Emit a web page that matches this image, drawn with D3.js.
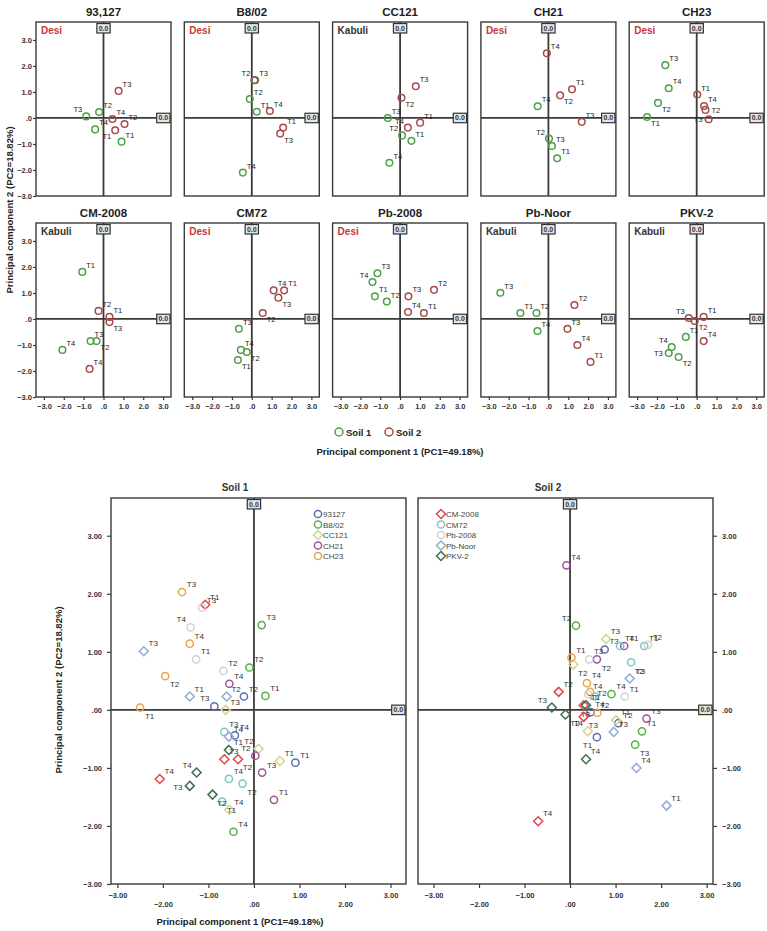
<!DOCTYPE html>
<html><head><meta charset="utf-8">
<script src="https://cdn.jsdelivr.net/npm/d3@7"></script>
<style>body{margin:0;background:#fff}svg{display:block;font-family:"Liberation Sans",Arial,sans-serif}</style>
</head><body><svg id="c" width="767" height="931"></svg>
<script>
// ---------------- DATA ----------------
const varieties = ["93,127","B8/02","CC121","CH21","CH23","CM-2008","CM72","Pb-2008","Pb-Noor","PKV-2"];
const legendNames = ["93127","B8/02","CC121","CH21","CH23","CM-2008","CM72","Pb-2008","Pb-Noor","PKV-2"];
const types = ["Desi","Desi","Kabuli","Desi","Desi","Kabuli","Desi","Desi","Kabuli","Kabuli"];
const treatments = ["T1","T2","T3","T4"];
// PC1 / PC2 scores, rows = varieties, columns = T1..T4
const soil1PC1 = [[0.91,-0.22,-0.87,-0.42],[0.25,-0.10,0.17,-0.45],[0.57,0.10,-0.62,-0.54],[0.44,0.03,0.18,-0.54],[-2.50,-1.95,-1.58,-1.41],
                  [-1.07,-0.35,-0.65,-2.07],[-0.70,-0.25,-0.65,-0.55],[-1.27,-0.67,-1.14,-1.39],[-1.41,-0.60,-2.42,-0.55],[-0.55,-0.91,-1.41,-1.26]];
const soil1PC2 = [[-0.91,0.23,0.06,-0.44],[0.24,0.73,1.46,-2.10],[-0.88,-0.67,0.00,-1.72],[-1.55,-0.79,-1.08,0.45],[0.04,0.58,2.03,1.14],
                  [1.81,-0.85,-0.85,-1.19],[-1.58,-1.27,-0.38,-1.19],[0.87,0.67,1.76,1.42],[0.23,0.23,1.01,-0.46],[-0.69,-1.46,-1.31,-1.08]];
const soil2PC1 = [[0.59,1.06,0.76,0.45],[1.58,0.13,1.43,0.91],[1.01,0.07,0.79,0.39],[1.19,0.59,1.68,-0.08],[0.03,0.44,0.60,0.37],
                  [0.30,-0.25,0.30,-0.70],[1.63,0.55,1.34,1.10],[1.20,1.71,0.42,0.40],[2.12,1.31,0.96,1.46],[0.35,-0.10,-0.40,0.35]];
const soil2PC2 = [[-0.47,-0.23,1.04,-0.04],[-0.37,1.45,-0.60,0.27],[-0.18,0.78,1.22,-0.37],[1.10,0.87,-0.15,2.49],[0.90,0.31,-0.05,0.46],
                  [0.08,0.31,-0.12,-1.92],[1.10,0.23,0.82,1.10],[0.23,1.12,0.87,0.27],[-1.65,0.54,-0.38,-1.00],[0.08,-0.08,0.04,-0.85]];
// label placement code for each point (ur = upper right, ul, br, bl, r, l)
const soil1Lab = [["ur","ur","ul","ur"],["ur","ur","ur","ur"],["ur","ul","ur","ur"],["ur","ul","ur","ur"],["br","br","ur","ur"],
                  ["ur","br","ur","ur"],["br","br","ur","ur"],["ur","ur","ur","ul"],["ur","ur","ur","ur"],["ur","br","l","ul"]];
const soil2Lab = [["bl","ur","ur","ur"],["ur","ul","br","ur"],["ur","br","ur","ul"],["ur","br","ur","ur"],["ur","r","l","ur"],
                  ["ur","ur","br","ur"],["ur","br","br","ur"],["ur","ur","ur","ur"],["ur","ur","ur","ur"],["ur","br","ul","ur"]];
const soilNames = ["Soil 1","Soil 2"];
const topTicks = [-3,-2,-1,0,1,2,3];
const bottomTicks = [-3,-2,-1,0,1,2,3];
const pc1Title = "Principal component 1 (PC1=49.18%)";
const pc2Title = "Principal component 2 (PC2=18.82%)";

// ---------------- STYLE ----------------
const soilColor = ["#4f9f4a","#a84a4c"];
const varColor = ["#5a6db0","#5aab4a","#d6d28e","#9b559b","#e8a548","#e0474c","#7cc4c8","#d2d2d2","#92abd4","#3d6e4d"];
const varShape = ["c","c","d","c","c","d","c","c","d","d"];
const typeColor = {Desi:"#c8383a",Kabuli:"#333"};
const axisColor = "#3a3a3a";

const svg = d3.select("#c");

const labOff = {ur:[4,-4,"start"],ul:[-4,-4,"end"],br:[4,9,"start"],bl:[-4,9,"end"],r:[6,3,"start"],l:[-6,3,"end"]};

function zeroBox(g, x, y, fs){
  const w = fs*1.9, h = fs*1.35;
  g.append("rect").attr("x",x-w/2).attr("y",y-h/2).attr("width",w).attr("height",h)
    .attr("fill","#e4e4e4").attr("stroke","#333").attr("stroke-width",1.2);
  g.append("text").attr("x",x).attr("y",y+fs*0.36).attr("text-anchor","middle")
    .attr("font-size",fs).attr("fill","#333").attr("font-weight","bold").text("0.0");
}

function shape(g, sh, x, y, col, r){
  if(sh==="c"){
    g.append("circle").attr("cx",x).attr("cy",y).attr("r",r).attr("fill","none").attr("stroke",col).attr("stroke-width",1.5);
  } else {
    const s = r*1.25;
    g.append("path").attr("d",`M${x},${y-s}L${x+s},${y}L${x},${y+s}L${x-s},${y}Z`)
      .attr("fill","none").attr("stroke",col).attr("stroke-width",1.5);
  }
}

function frameAndAxes(g, xs, ys, fs){
  const [x0,x1] = xs.range(), [y1,y0] = ys.range();
  g.append("rect").attr("x",x0).attr("y",y0).attr("width",x1-x0).attr("height",y1-y0)
    .attr("fill","none").attr("stroke",axisColor).attr("stroke-width",1.4);
  g.append("line").attr("x1",xs(0)).attr("x2",xs(0)).attr("y1",y0).attr("y2",y1).attr("stroke",axisColor).attr("stroke-width",1.8);
  g.append("line").attr("x1",x0).attr("x2",x1).attr("y1",ys(0)).attr("y2",ys(0)).attr("stroke",axisColor).attr("stroke-width",1.8);
  zeroBox(g, xs(0), y0+fs*0.75+1, fs);
  zeroBox(g, x1-fs*0.95-1, ys(0), fs);
}

function styleAxis(ax, fs){
  ax.select(".domain").remove();
  ax.selectAll(".tick line").attr("stroke",axisColor).attr("stroke-width",1.2);
  ax.selectAll(".tick text").attr("font-size",fs).attr("font-weight","bold").attr("fill","#333")
    .attr("font-family","'Liberation Sans',Arial,sans-serif");
}

// ---------------- TOP SMALL MULTIPLES ----------------
const fmt1 = d => d===0 ? ".0" : d3.format(".1f")(d);
varieties.forEach((v,i)=>{
  const col = i%5, row = Math.floor(i/5);
  const left = 36 + col*148.3, top = row===0 ? 22 : 223;
  const xs = d3.scaleLinear().domain([-3.4,3.4]).range([left,left+135]);
  const ys = d3.scaleLinear().domain([-3,3.69]).range([top+174,top]);
  const g = svg.append("g");
  g.append("text").attr("x",left+67.5).attr("y",top-6).attr("text-anchor","middle")
    .attr("font-size",11.5).attr("font-weight","bold").attr("fill","#222").text(v);
  frameAndAxes(g, xs, ys, 7);
  g.append("text").attr("x",left+5).attr("y",top+12).attr("font-size",10).attr("font-weight","bold")
    .attr("fill",typeColor[types[i]]).text(types[i]);
  if(col===0){
    const ax = g.append("g").attr("transform",`translate(${left},0)`)
      .call(d3.axisLeft(ys).tickValues(topTicks).tickFormat(fmt1).tickSize(3).tickPadding(1));
    styleAxis(ax,7.5);
  }
  if(row===1){
    const ax = g.append("g").attr("transform",`translate(0,${top+174})`)
      .call(d3.axisBottom(xs).tickValues(topTicks).tickFormat(fmt1).tickSize(3).tickPadding(4));
    styleAxis(ax,7.5);
  }
  [[soil1PC1,soil1PC2,soil1Lab],[soil2PC1,soil2PC2,soil2Lab]].forEach(([p1,p2,lab],s)=>{
    treatments.forEach((t,j)=>{
      const x = xs(p1[i][j]), y = ys(p2[i][j]);
      shape(g,"c",x,y,soilColor[s],3.3);
      const o = labOff[lab[i][j]];
      g.append("text").attr("x",x+o[0]).attr("y",y+o[1]).attr("text-anchor",o[2])
        .attr("font-size",7.5).attr("fill","#222").text(t);
    });
  });
});
// y title (top)
svg.append("text").attr("transform","translate(13,210) rotate(-90)").attr("text-anchor","middle")
  .attr("font-size",9.5).attr("font-weight","bold").attr("fill","#222").text(pc2Title);
// soil legend (top)
soilNames.forEach((s,k)=>{
  const x = 339 + k*50;
  shape(svg,"c",x,432,soilColor[k],4);
  svg.append("text").attr("x",x+7).attr("y",435.5).attr("font-size",9.5).attr("font-weight","bold").attr("fill","#222").text(s);
});
svg.append("text").attr("x",400).attr("y",455).attr("text-anchor","middle")
  .attr("font-size",9.5).attr("font-weight","bold").attr("fill","#222").text(pc1Title);

// ---------------- BOTTOM COMBINED PANELS ----------------
const fmt2 = d => d===0 ? ".00" : d3.format(".2f")(d);
const bys = d3.scaleLinear().domain([-3,3.65]).range([884,498]);
const bxs = [
  d3.scaleLinear().domain([-3.14,3.34]).range([111,406]),
  d3.scaleLinear().domain([-3.34,3.14]).range([418,713])
];
const titleX = [235,548];
[[soil1PC1,soil1PC2,soil1Lab],[soil2PC1,soil2PC2,soil2Lab]].forEach(([p1,p2,lab],s)=>{
  const xs = bxs[s];
  const g = svg.append("g");
  const [x0,x1] = xs.range();
  g.append("text").attr("x",titleX[s]).attr("y",491).attr("text-anchor","middle")
    .attr("font-size",10).attr("font-weight","bold").attr("fill","#333").text(soilNames[s]);
  frameAndAxes(g, xs, bys, 7);
  // axes
  const axx = g.append("g").attr("transform","translate(0,884)")
    .call(d3.axisBottom(xs).tickValues(bottomTicks).tickFormat(fmt2).tickSize(4).tickPadding(5));
  styleAxis(axx,7.5);
  axx.selectAll(".tick text").attr("dy",(d,k)=> k%2===0 ? "0.71em" : "1.8em");
  const axy = g.append("g").attr("transform",`translate(${s===0?x0:x1},0)`)
    .call((s===0?d3.axisLeft(bys):d3.axisRight(bys)).tickValues(bottomTicks).tickFormat(fmt2).tickSize(4).tickPadding(5));
  styleAxis(axy,7.5);
  // points
  varieties.forEach((v,i)=>{
    treatments.forEach((t,j)=>{
      const x = xs(p1[i][j]), y = bys(p2[i][j]);
      shape(g,varShape[i],x,y,varColor[i],3.6);
      const o = labOff[lab[i][j]];
      g.append("text").attr("x",x+o[0]*1.2).attr("y",y+o[1]*1.25).attr("text-anchor",o[2])
        .attr("font-size",8).attr("fill","#333").text(t);
    });
  });
  // legend: 5 varieties per panel
  const lx = s===0 ? 318 : 441;
  d3.range(s*5,s*5+5).forEach((i,k)=>{
    const y = 514 + k*10.5;
    shape(g,varShape[i],lx,y,varColor[i],3.6);
    g.append("text").attr("x",lx+5).attr("y",y+3).attr("font-size",8).attr("fill","#444").text(legendNames[i]);
  });
});
svg.append("text").attr("transform","translate(62,690) rotate(-90)").attr("text-anchor","middle")
  .attr("font-size",9.5).attr("font-weight","bold").attr("fill","#222").text(pc2Title);
svg.append("text").attr("x",240).attr("y",925).attr("text-anchor","middle")
  .attr("font-size",9.5).attr("font-weight","bold").attr("fill","#222").text(pc1Title);
</script></body></html>
